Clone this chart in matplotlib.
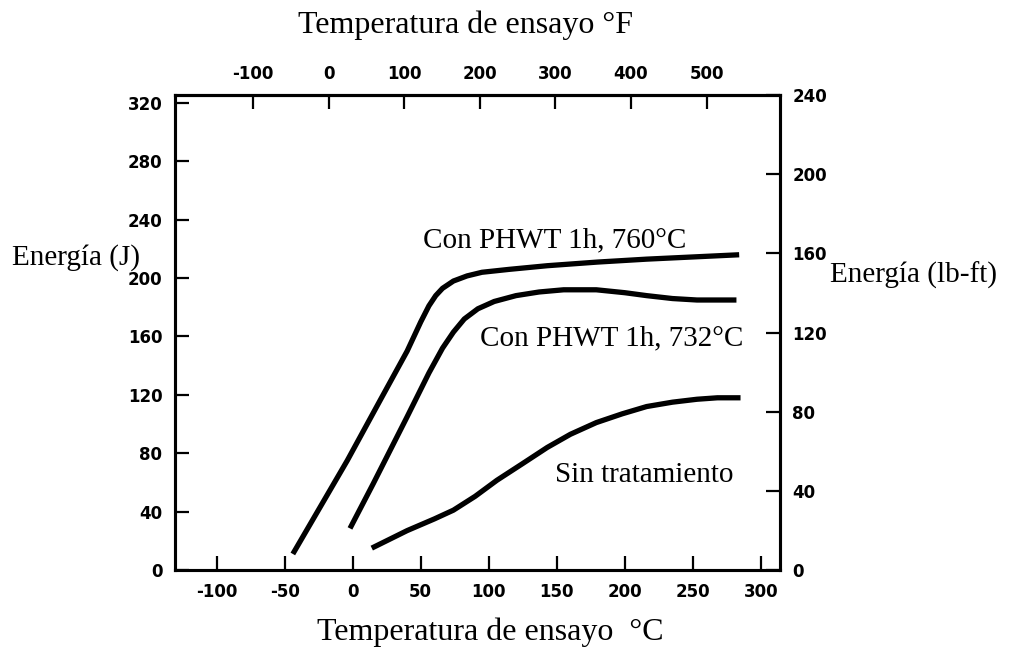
import numpy as np
import matplotlib.pyplot as plt

plt.rcParams["axes.unicode_minus"] = False

J_PER_LBFT = 1.3558

# Charpy energy (J) vs test temperature (°C)
temp_760 = [-44, -24, -4, 20, 40, 50, 56, 61, 66, 74, 84, 95, 115, 143, 180, 216, 250, 284]
energy_760 = [11, 43, 75, 116, 150, 170, 181, 188, 193, 198, 201.5, 204, 206, 208.5, 211, 213, 214.5, 216]

temp_732 = [-2, 15, 40, 56, 66, 74, 82, 92, 104, 120, 137, 155, 179, 200, 216, 235, 253, 282]
energy_732 = [28.5, 59, 105, 135, 152, 163, 172, 179, 184, 188, 190.5, 192, 192, 190, 188, 186, 185, 185]

temp_raw = [14, 40, 60, 74, 90, 106, 125, 143, 160, 179, 198, 216, 235, 253, 268, 285]
energy_raw = [15, 27, 35, 41, 50.5, 61.5, 73, 84, 93, 101, 107, 112, 115, 117, 118, 118]

c_ticks = [-100, -50, 0, 50, 100, 150, 200, 250, 300]
f_ticks = [-100, 0, 100, 200, 300, 400, 500]
j_ticks = [0, 40, 80, 120, 160, 200, 240, 280, 320]
lbft_ticks = [0, 40, 80, 120, 160, 200, 240]

serif = "Liberation Serif"
tick_font = dict(family="DejaVu Sans", weight="bold", size=12)

fig = plt.figure(figsize=(10.18, 6.47), dpi=100)
ax = fig.add_axes([0.1719, 0.119, 0.5943, 0.734])

lw = 3.8
for t, e in [(temp_760, energy_760), (temp_732, energy_732), (temp_raw, energy_raw)]:
    ax.plot(t, e, color="black", lw=lw, solid_joinstyle="round", solid_capstyle="butt")

ax.set_xlim(-130.6, 314)
ax.set_ylim(0, 240 * J_PER_LBFT)
ax.set_xticks(c_ticks)
ax.set_yticks(j_ticks)
for s in ax.spines.values():
    s.set_linewidth(2.2)
ax.tick_params(direction="in", length=10, width=1.6, pad=9)
for lab in ax.get_xticklabels() + ax.get_yticklabels():
    lab.set_fontproperties(tick_font)

# right axis in lb-ft
ax2 = ax.twinx()
ax2.set_ylim(0, 240)
ax2.set_yticks(lbft_ticks)
ax2.tick_params(direction="in", length=10, width=1.6, pad=9)
for s in ax2.spines.values():
    s.set_linewidth(2.2)
for lab in ax2.get_yticklabels():
    lab.set_fontproperties(tick_font)

# top axis in °F
top = ax.secondary_xaxis("top", functions=(lambda c: np.asarray(c) * 9 / 5 + 32,
                                           lambda f: (np.asarray(f) - 32) * 5 / 9))
top.set_xticks(f_ticks)
top.tick_params(direction="in", length=10, width=1.6, pad=9)
top.spines["top"].set_linewidth(2.2)
for lab in top.get_xticklabels():
    lab.set_fontproperties(tick_font)

# labels placed in figure pixels
W, H = 1018, 647
def ftext(x, y, s, size=21, ha="left", va="baseline"):
    fig.text(x / W, 1 - y / H, s, family=serif, size=size, ha=ha, va=va)

ftext(466, 33, "Temperatura de ensayo °F", size=23, ha="center")
ftext(490, 640, "Temperatura de ensayo  °C", size=23, ha="center")
ftext(12, 265, "Energía (J)")
ftext(830, 283, "Energía (lb-ft)")
ftext(423, 247, "Con PHWT 1h, 760°C")
ftext(480, 345, "Con PHWT 1h, 732°C")
ftext(555, 482, "Sin tratamiento")

fig.savefig("out.png", dpi=100)
